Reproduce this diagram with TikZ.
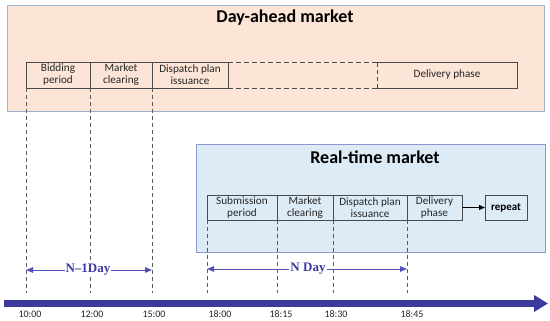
\documentclass[tikz,border=0pt]{standalone}
\usepackage{fontspec}
\setmainfont{Carlito}
\newfontfamily\tnr{Liberation Serif}
\usetikzlibrary{arrows.meta}
\definecolor{dafill}{HTML}{FCE4D6}
\definecolor{daborder}{HTML}{A3B3D3}
\definecolor{rtfill}{HTML}{DDEBF7}
\definecolor{rtborder}{HTML}{8E98D0}
\definecolor{cellc}{HTML}{4A4A4A}
\definecolor{guidec}{HTML}{5A5A5A}
\definecolor{txt}{HTML}{262626}
\definecolor{tl}{HTML}{3B3B9E}
\definecolor{spanc}{HTML}{4F4FB5}
\begin{document}
\begin{tikzpicture}[x=1pt,y=-1pt,
  panel/.style={line width=0.8pt, inner sep=0pt, outer sep=0pt, anchor=north west},
  title/.style={font=\fontsize{18}{20}\selectfont\bfseries, text=black},
  cell/.style={draw=cellc, line width=0.8pt, minimum height=26pt, inner sep=0pt, outer sep=0pt, anchor=north west, align=center, font=\fontsize{11.2}{12}\selectfont, text=txt},
  guide/.style={draw=guidec, line width=0.6pt, dash pattern=on 4pt off 3pt},
  timelab/.style={font=\fontsize{10}{11}\selectfont, text=txt, inner sep=0pt},
  span/.style={draw=spanc, line width=1pt, {Triangle[length=7pt,width=5.5pt]}-{Triangle[length=7pt,width=5.5pt]}},
  spanlab/.style={font=\tnr\fontsize{13}{14}\selectfont\bfseries, text=tl, fill=white, inner sep=1pt}]
\useasboundingbox (0,0) rectangle (550,321);
\fill[white] (0,0) rectangle (550,321);

% panels
\node[panel, draw=daborder, fill=dafill, minimum width=537pt, minimum height=106pt] (da) at (7,5) {};
\node[title] (datitle) at (285,18) {Day-ahead market};
\node[panel, draw=rtborder, fill=rtfill, minimum width=349pt, minimum height=108pt] (rt) at (196,144) {};
\node[title] (rttitle) at (375,157) {Real-time market};

% day-ahead row
\node[cell, minimum width=64pt] (bid) at (26,62) {Bidding\\period};
\node[cell, minimum width=62pt] (mc) at (90,62) {Market\\clearing};
\node[cell, minimum width=76pt] (dp) at (152,62) {Dispatch plan\\issuance};
\node[cell, draw=none, minimum width=140pt] (del) at (377,62) {Delivery phase};
\draw[draw=cellc, line width=0.8pt] (del.north west) -- (del.north east) -- (del.south east) -- (del.south west);
\draw[draw=cellc, line width=0.8pt, dash pattern=on 4pt off 3pt] (del.south west) -- (del.north west);
\draw[draw=cellc, line width=0.8pt, dash pattern=on 5pt off 3pt] (dp.north east) -- (del.north west);
\draw[draw=cellc, line width=0.8pt, dash pattern=on 5pt off 3pt] (dp.south east) -- (del.south west);

% real-time row
\node[cell, minimum width=70pt, minimum height=25pt] (sub) at (207,195) {Submission\\period};
\node[cell, minimum width=56pt, minimum height=25pt] (mc2) at (277,195) {Market\\clearing};
\node[cell, minimum width=74pt, minimum height=25pt] (dp2) at (333,195) {Dispatch plan\\issuance};
\node[cell, minimum width=55pt, minimum height=25pt] (del2) at (407,195) {Delivery\\phase};
\node[cell, minimum width=42pt, minimum height=25pt, font=\fontsize{11}{12}\selectfont\bfseries, text=black] (rep) at (485,195) {repeat};
\draw[line width=1pt, -{Triangle[length=6pt,width=5pt]}] (del2.east) -- (rep.west);

% guides
\coordinate (gbot) at (0,293);
\draw[guide] (bid.south west) -- (bid.south west |- gbot);
\draw[guide] (mc.south west) -- (mc.south west |- gbot);
\draw[guide] (dp.south west) -- (dp.south west |- gbot);
\draw[guide] (sub.south west) -- (sub.south west |- gbot);
\draw[guide] (mc2.south west) -- (mc2.south west |- gbot);
\draw[guide] (dp2.south west) -- (dp2.south west |- gbot);
\draw[guide] (del2.south west) -- (del2.south west |- gbot);

% spans
\coordinate (n1y) at (0,270);
\coordinate (ny) at (0,269);
\draw[span] (bid.south west |- n1y) -- (dp.south west |- n1y);
\node[spanlab] (n1lab) at (88,270) {N–1Day};
\draw[span] (sub.south west |- ny) -- (del2.south west |- ny);
\node[spanlab] (nlab) at (308,269) {N Day};

% timeline
\coordinate (t0) at (4,303.5);
\coordinate (t1) at (548,303.5);
\draw[draw=tl, line width=7pt, -{Triangle[length=14pt,width=16pt]}] (t0) -- (t1);

\node[timelab] (l1) at (30,314) {10:00};
\node[timelab] (l2) at (92,314) {12:00};
\node[timelab] (l3) at (154,314) {15:00};
\node[timelab] (l4) at (220,314) {18:00};
\node[timelab] (l5) at (281,314) {18:15};
\node[timelab] (l6) at (336,314) {18:30};
\node[timelab] (l7) at (412,314) {18:45};
\end{tikzpicture}
\end{document}
